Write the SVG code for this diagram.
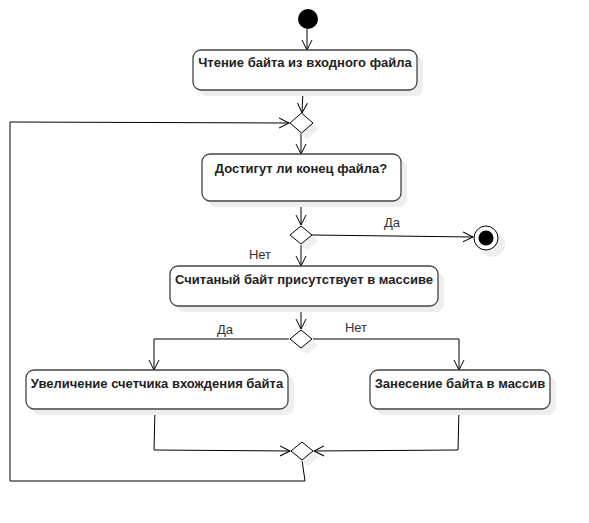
<svg xmlns="http://www.w3.org/2000/svg" width="589" height="523" viewBox="0 0 589 523">
<defs>
<marker id="arr" markerWidth="12" markerHeight="12" refX="10" refY="5" orient="auto" markerUnits="userSpaceOnUse" viewBox="0 0 12 10">
<path d="M0,0 L10,5 L0,10" fill="none" stroke="#000" stroke-width="1"/>
</marker>
</defs>
<style>
.box{fill:#fff;stroke:#444;stroke-width:1.3}
.shadow{fill:#eeeeee;stroke:none}
.dia{fill:#fff;stroke:#000;stroke-width:1}
.t{font-family:"Liberation Sans",Arial,sans-serif;font-size:13px;font-weight:bold;fill:#222;text-anchor:middle}
.l{font-family:"Liberation Sans",Arial,sans-serif;font-size:13px;fill:#333;text-anchor:middle}
.c{fill:none;stroke:#000;stroke-width:1}
.ca{fill:none;stroke:#000;stroke-width:1;marker-end:url(#arr)}
</style>
<rect width="589" height="523" fill="#fff"/>

<g id="connectors">
<line class="ca" x1="307" y1="29" x2="307" y2="50"/>
<line class="ca" x1="303" y1="90" x2="302" y2="113"/>
<line class="ca" x1="301" y1="133" x2="301" y2="154"/>
<line class="ca" x1="301" y1="201" x2="301" y2="225"/>
<line class="ca" x1="312" y1="235" x2="473" y2="237"/>
<line class="ca" x1="301" y1="245" x2="301" y2="266"/>
<line class="ca" x1="301" y1="306" x2="301" y2="329"/>
<polyline class="ca" points="289,339 154,339 154,370"/>
<polyline class="ca" points="313,339 459,339 459,370"/>
<polyline class="ca" points="155,409 154,450 290,451"/>
<polyline class="ca" points="459,409 458,450 314,451"/>
<polyline class="ca" points="302,460 305,481 10,481 10,122 289,123"/>
<text class="l" x="392" y="227">Да</text>
<text class="l" x="260" y="259">Нет</text>
<text class="l" x="225" y="334">Да</text>
<text class="l" x="356" y="332">Нет</text>
</g>

<g id="start">
<circle cx="308" cy="19" r="10" fill="#000"/>
</g>

<g id="read">
<rect class="shadow" x="199" y="56" width="224" height="40" rx="8"/>
<rect class="box" x="193" y="50" width="224" height="40" rx="8"/>
<text class="t" x="305" y="67">Чтение байта из входного файла</text>
</g>

<g id="merge1">
<polygon class="shadow" points="307,119 319,129 307,139 295,129"/>
<polygon class="dia" points="301.5,113 313,123 301.5,133 290,123"/>
</g>

<g id="eof">
<rect class="shadow" x="208" y="160" width="199" height="47" rx="8"/>
<rect class="box" x="202" y="154" width="199" height="47" rx="8"/>
<text class="t" x="301" y="173">Достигут ли конец файла?</text>
</g>

<g id="decision1">
<polygon class="shadow" points="307,232 318,241 307,250 296,241"/>
<polygon class="dia" points="301,226 312,235 301,244 290,235"/>
</g>

<g id="end">
<circle cx="492" cy="244" r="13" fill="#eeeeee"/>
<circle cx="486" cy="238" r="12" fill="#fff" stroke="#000" stroke-width="1"/>
<circle cx="486" cy="238" r="7.5" fill="#000"/>
</g>

<g id="present">
<rect class="shadow" x="176" y="272" width="268" height="40" rx="8"/>
<rect class="box" x="170" y="266" width="268" height="40" rx="8"/>
<text class="t" x="304" y="284">Считаный байт присутствует в массиве</text>
</g>

<g id="decision2">
<polygon class="shadow" points="307,336 318,345 307,354 296,345"/>
<polygon class="dia" points="301,330 312,339 301,348 290,339"/>
</g>

<g id="increment">
<rect class="shadow" x="32" y="376" width="262" height="39" rx="8"/>
<rect class="box" x="26" y="370" width="262" height="39" rx="8"/>
<text class="t" x="157" y="388">Увеличение счетчика вхождения байта</text>
</g>

<g id="insert">
<rect class="shadow" x="376" y="376" width="180" height="39" rx="8"/>
<rect class="box" x="370" y="370" width="180" height="39" rx="8"/>
<text class="t" x="460" y="388">Занесение байта в массив</text>
</g>

<g id="merge2">
<polygon class="shadow" points="308,448 319,457 308,466 297,457"/>
<polygon class="dia" points="302,442 313,451 302,460 291,451"/>
</g>
</svg>
